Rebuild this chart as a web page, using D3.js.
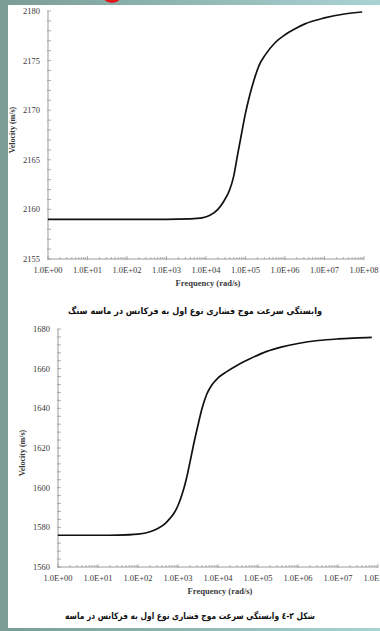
<!DOCTYPE html>
<html>
<head>
<meta charset="utf-8">
<script src="https://cdn.jsdelivr.net/npm/d3@7"></script>
<style>
  body { margin: 0; width: 380px; height: 631px; overflow: hidden;
         background: linear-gradient(to right, #7a9c95, #a9d3d3); }
</style>
</head>
<body>
<div id="chart"></div>
<script>
// upper chart (sandstone)
var freq1 = [1e0, 1e1, 1e2, 1e3, 4e3, 8e3, 1.26e4, 2e4, 2.8e4, 4e4, 5e4, 6.3e4, 8e4, 1e5,
             1.26e5, 1.6e5, 2.2e5, 3.2e5, 5.6e5, 1e6, 1.8e6, 3.2e6, 1e7, 3.2e7, 9e7];
var vel1 = [2159.0, 2159.0, 2159.0, 2159.0, 2159.05, 2159.15, 2159.4, 2160.0, 2160.8, 2162.0,
            2163.3, 2165.5, 2167.7, 2169.7, 2171.4, 2172.9, 2174.5, 2175.6, 2176.8, 2177.6,
            2178.2, 2178.7, 2179.3, 2179.7, 2179.9];
var yTicks1 = [2155, 2160, 2165, 2170, 2175, 2180];

// lower chart (sand)
var freq2 = [1e0, 1e1, 3.2e1, 1e2, 2e2, 3.2e2, 5e2, 6.3e2, 8e2, 1e3, 1.26e3, 1.6e3, 2e3,
             2.5e3, 3.2e3, 4e3, 5.2e3, 7e3, 1e4, 1.66e4, 3.2e4, 6.3e4, 1.6e5, 4e5, 1e6,
             3.2e6, 1e7, 3.2e7, 7e7];
var vel2 = [1576.0, 1576.0, 1576.1, 1576.6, 1577.8, 1579.5, 1582.3, 1584.5, 1587.2, 1591.0,
            1596.5, 1604.0, 1613.0, 1622.5, 1632.0, 1640.0, 1647.0, 1651.8, 1655.3, 1658.5,
            1662.0, 1665.0, 1668.6, 1671.0, 1672.7, 1674.2, 1675.0, 1675.5, 1675.8];
var yTicks2 = [1560, 1580, 1600, 1620, 1640, 1660, 1680];

var xTicks = [1e0, 1e1, 1e2, 1e3, 1e4, 1e5, 1e6, 1e7, 1e8];
var xTitle = "Frequency (rad/s)";
var yTitle = "Velocity (m/s)";
var caption1 = "وابستگی سرعت موج فشاری نوع اول به فرکانس در ماسه سنگ";
var caption2 = "شکل ۲-٤ وابستگی سرعت موج فشاری نوع اول به فرکانس در ماسه";

var svg = d3.select("#chart").append("svg")
    .attr("width", 380)
    .attr("height", 631)
    .style("display", "block");

// slide decoration
svg.append("circle").attr("cx", 112).attr("cy", -8).attr("r", 11).attr("fill", "#e3151c");
svg.append("rect").attr("x", 8).attr("y", 5).attr("width", 372).attr("height", 623).attr("fill", "#fff");

var serif = "'Liberation Serif', 'DejaVu Serif', serif";
var axisColor = "#9a9a9a";
var textColor = "#3a3a3a";

function fmtExp(d) {
    var e = Math.round(Math.log10(d));
    return "1.0E+" + (e < 10 ? "0" + e : e);
}

function drawChart(o) {
    var x = d3.scaleLog().domain([1, 1e8]).range([o.left, o.right]);
    var y = d3.scaleLinear().domain(o.yDomain).range([o.bottom, o.top]);
    var g = svg.append("g");

    // y axis with minor ticks
    var minorY = d3.range(o.yDomain[0], o.yDomain[1] + 0.001, o.minorStep);
    g.append("line")
        .attr("x1", o.left).attr("x2", o.left)
        .attr("y1", y(o.yDomain[0])).attr("y2", y(o.yDomain[1]))
        .attr("stroke", axisColor).attr("stroke-width", 1);
    g.selectAll(".ytick").data(minorY).enter().append("line")
        .attr("x1", o.left - 1).attr("x2", o.left + 3)
        .attr("y1", d => y(d)).attr("y2", d => y(d))
        .attr("stroke", axisColor).attr("stroke-width", 0.8);
    g.selectAll(".ylab").data(o.yTicks).enter().append("text")
        .attr("x", o.left - 8).attr("y", d => y(d)).attr("dy", "0.35em")
        .attr("text-anchor", "end")
        .attr("font-family", serif).attr("font-size", "8.5px").attr("fill", textColor)
        .text(d => d);

    // x axis with log minor ticks
    var minorX = [];
    xTicks.slice(0, -1).forEach(function (t) {
        for (var k = 2; k <= 9; k++) minorX.push(t * k);
    });
    g.append("line")
        .attr("x1", o.left).attr("x2", o.right)
        .attr("y1", o.bottom).attr("y2", o.bottom)
        .attr("stroke", axisColor).attr("stroke-width", 1);
    g.selectAll(".xminor").data(minorX).enter().append("line")
        .attr("x1", d => x(d)).attr("x2", d => x(d))
        .attr("y1", o.bottom).attr("y2", o.bottom - 2)
        .attr("stroke", axisColor).attr("stroke-width", 0.8);
    g.selectAll(".xmajor").data(xTicks).enter().append("line")
        .attr("x1", d => x(d)).attr("x2", d => x(d))
        .attr("y1", o.bottom + 1).attr("y2", o.bottom - 3)
        .attr("stroke", axisColor).attr("stroke-width", 0.8);
    g.selectAll(".xlab").data(xTicks).enter().append("text")
        .attr("x", d => x(d)).attr("y", o.bottom + 11).attr("dy", "0.35em")
        .attr("text-anchor", "middle")
        .attr("font-family", serif).attr("font-size", "8.5px").attr("fill", textColor)
        .text(fmtExp);

    // titles
    g.append("text")
        .attr("x", (o.left + o.right) / 2 + 2).attr("y", o.bottom + 24).attr("dy", "0.35em")
        .attr("text-anchor", "middle")
        .attr("font-family", serif).attr("font-size", "8.5px").attr("font-weight", "bold")
        .attr("fill", textColor)
        .text(xTitle);
    g.append("text")
        .attr("transform", `translate(${o.yTitleX}, ${o.yTitleY}) rotate(-90)`)
        .attr("dy", "0.35em")
        .attr("text-anchor", "middle")
        .attr("font-family", serif).attr("font-size", "8px").attr("font-weight", "bold")
        .attr("fill", textColor)
        .text(yTitle);

    // curve
    var pts = o.freq.map((f, i) => [f, o.vel[i]]);
    var line = d3.line()
        .x(d => x(d[0]))
        .y(d => y(d[1]))
        .curve(d3.curveMonotoneX);
    g.append("path")
        .datum(pts)
        .attr("d", line)
        .attr("fill", "none")
        .attr("stroke", "#111")
        .attr("stroke-width", 1.7);

    // caption
    g.append("text")
        .attr("x", o.capX).attr("y", o.capY).attr("dy", "0.35em")
        .attr("text-anchor", "middle")
        .attr("direction", "rtl")
        .attr("font-family", "'DejaVu Sans', sans-serif")
        .attr("font-size", "9px").attr("font-weight", "bold")
        .attr("fill", "#111")
        .attr("textLength", o.capW).attr("lengthAdjust", "spacingAndGlyphs")
        .text(o.caption);
}

drawChart({
    left: 48, right: 364, top: 11, bottom: 259,
    yDomain: [2155, 2180], yTicks: yTicks1, minorStep: 1,
    freq: freq1, vel: vel1,
    yTitleX: 12, yTitleY: 130,
    caption: caption1, capX: 195, capY: 311, capW: 254
});

drawChart({
    left: 58, right: 378, top: 329, bottom: 567,
    yDomain: [1560, 1680], yTicks: yTicks2, minorStep: 4,
    freq: freq2, vel: vel2,
    yTitleX: 22, yTitleY: 453,
    caption: caption2, capX: 190, capY: 616, capW: 250
});
</script>
</body>
</html>
